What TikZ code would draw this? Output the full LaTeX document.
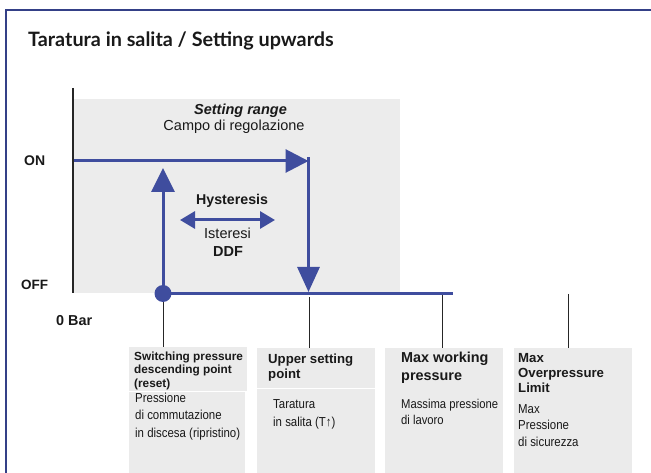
\documentclass[tikz,border=0pt]{standalone}
\usepackage{fontspec}
\setmainfont{Liberation Sans}
\newfontfamily\titlefont{Lato}
\newfontfamily\narrowfont[FakeStretch=0.88]{Liberation Sans}
\usetikzlibrary{arrows.meta}
\definecolor{blueC}{RGB}{63,77,158}
\definecolor{frameC}{RGB}{52,64,135}
\definecolor{boxC}{RGB}{235,235,235}
\definecolor{rangeC}{RGB}{236,236,236}
\newcommand{\fs}[1]{\fontsize{#1}{#1}\selectfont}
\begin{document}
\begin{tikzpicture}[x=1pt,y=-1pt,
  txt/.style={inner sep=0pt, anchor=base west, text=black!90},
  ctxt/.style={inner sep=0pt, anchor=base, text=black!90},
  blueline/.style={draw=blueC, line width=3pt},
  tick/.style={draw=black!85, line width=1pt},
  graybox/.style={fill=boxC, draw=none, inner sep=0pt, anchor=north west}
]
\useasboundingbox (0,0) rectangle (651,473);
% frame
\draw[frameC, line width=2pt] (652,10) -- (5.5,10) -- (5.5,474);
% title
\node[txt, font=\titlefont\bfseries\fs{19.8}] (title) at (28,47) {Taratura in salita / Setting upwards};

% setting range area
\fill[rangeC] (73,99) rectangle (400,293);
\coordinate (axTop) at (73,88);
\coordinate (axBot) at (73,293);
\draw[black!85, line width=1.2pt] (axTop) -- (axBot);

\node[ctxt, font=\bfseries\itshape\fs{14.5}] (srange) at (240.5,115) {Setting range};
\node[ctxt, font=\fs{14.5}] (campo) at (234,131) {Campo di regolazione};

\node[txt, font=\bfseries\fs{14}] (on) at (24,166) {ON};
\node[txt, font=\bfseries\fs{13.5}] (off) at (21,290) {OFF};
\node[txt, font=\bfseries\fs{14.4}] (zero) at (56,325) {0 Bar};

\node[txt, font=\bfseries\fs{14.2}] (hyst) at (196,205) {Hysteresis};
\node[txt, font=\fs{14.5}] (ist) at (204,239) {Isteresi};
\node[txt, font=\bfseries\fs{14.5}] (ddf) at (213,257) {DDF};

% switching curve
\coordinate (on0) at (74,161);
\coordinate (onR) at (308.5,161);
\coordinate (dnTop) at (308.5,157.5);
\coordinate (dnBot) at (308.5,292);
\coordinate (offL) at (163,293.5);
\coordinate (offR) at (453,293.5);
\coordinate (upTip) at (163,168);
\coordinate (hL) at (180,220);
\coordinate (hR) at (275,220);

\draw[blueline, -{Triangle[length=23pt,width=23pt]}] (on0) -- (onR);
\draw[blueline, -{Triangle[length=25pt,width=22pt]}] (dnTop) -- (dnBot);
\draw[blueline] (offL) -- (offR);
\draw[blueline, -{Triangle[length=24pt,width=23pt]}] (offL) -- (upTip);
\fill[blueC] (offL) circle (8.5);
\draw[blueline, {Triangle[length=15pt,width=17pt]}-{Triangle[length=15pt,width=17pt]}] (hL) -- (hR);

% boxes
\node[graybox, minimum width=118pt, minimum height=44pt] (b1t) at (129,347) {};
\node[graybox, minimum width=116pt, minimum height=82pt] (b1b) at (129,392) {};
\node[graybox, minimum width=118pt, minimum height=40pt] (b2t) at (257,348) {};
\node[graybox, minimum width=118pt, minimum height=85pt] (b2b) at (257,389) {};
\node[graybox, minimum width=118pt, minimum height=126pt] (b3) at (385,348) {};
\node[graybox, minimum width=118pt, minimum height=126pt] (b4) at (514,348) {};

% ticks
\coordinate (t1) at (163,302);
\coordinate (t2) at (309,297);
\coordinate (t3) at (442,295);
\coordinate (t4) at (568,294);
\draw[tick] (t1) -- (t1 |- b1t.north);
\draw[tick] (t2) -- (t2 |- b2t.north);
\draw[tick] (t3) -- (t3 |- b3.north);
\draw[tick] (t4) -- (t4 |- b4.north);

% box texts
\foreach \t [count=\i] in {Switching pressure, descending point, (reset)}
  \node[txt, font=\bfseries\fs{11.8}] (b1h\i) at (134, 346.5+13.5*\i) {\t};
\foreach \t [count=\i] in {Pressione, di commutazione, in discesa (ripristino)}
  \node[txt, font=\narrowfont\fs{13}] (b1r\i) at (135, 384.5+17.5*\i) {\t};

\foreach \t [count=\i] in {Upper setting, point}
  \node[txt, font=\bfseries\fs{13.2}] (b2h\i) at (268, 348+15*\i) {\t};
\foreach \t [count=\i] in {Taratura, in salita (T↑)}
  \node[txt, font=\narrowfont\fs{13}] (b2r\i) at (273, 390+18*\i) {\t};

\foreach \t [count=\i] in {Max working, pressure}
  \node[txt, font=\bfseries\fs{14.4}] (b3h\i) at (401, 344+18*\i) {\t};
\foreach \t [count=\i] in {Massima pressione, di lavoro}
  \node[txt, font=\narrowfont\fs{12.8}] (b3r\i) at (401, 392+16*\i) {\t};

\foreach \t [count=\i] in {Max, Overpressure, Limit}
  \node[txt, font=\bfseries\fs{13.2}] (b4h\i) at (518, 347+15*\i) {\t};
\foreach \t [count=\i] in {Max, Pressione, di sicurezza}
  \node[txt, font=\narrowfont\fs{13}] (b4r\i) at (518, 396.5+16.5*\i) {\t};
\end{tikzpicture}
\end{document}
